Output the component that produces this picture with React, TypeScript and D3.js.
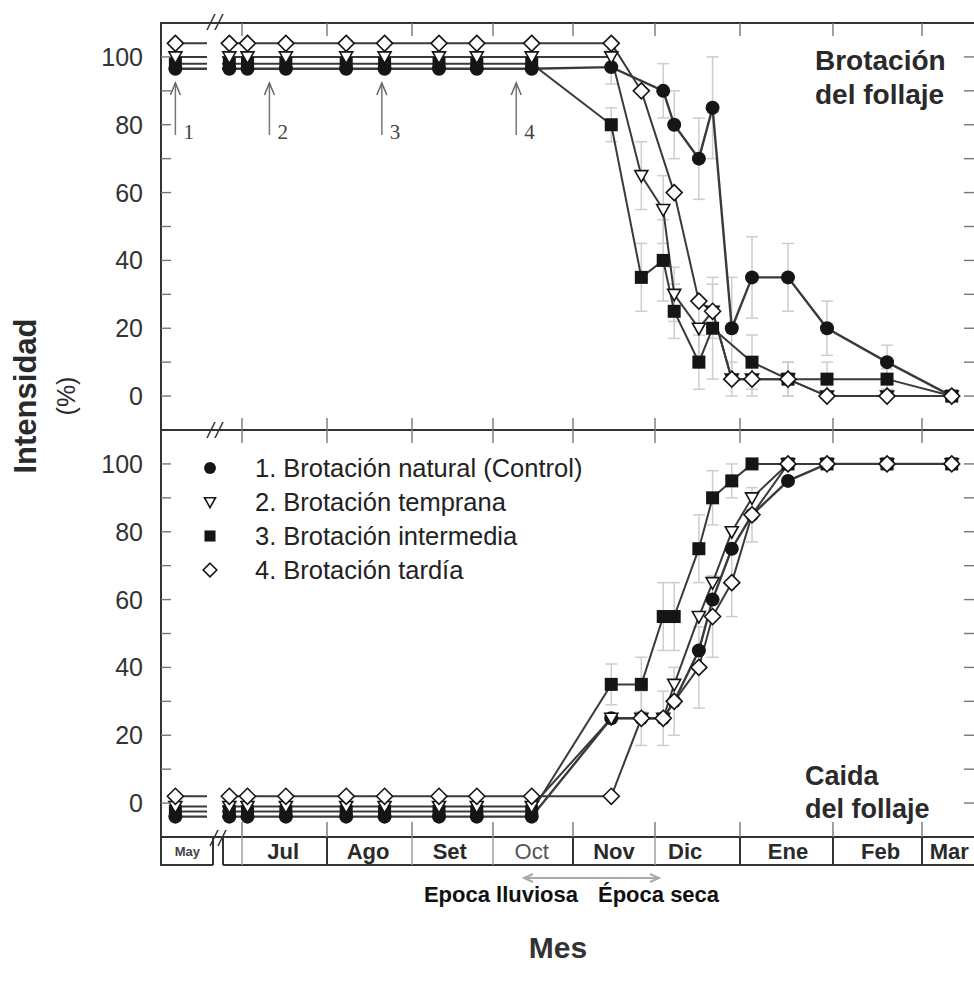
import React from "react";
import * as d3 from "d3";

// Fechas de muestreo (día del año, continuando después del 31 dic)
const dias = [130, 178, 184, 198, 220, 234, 254, 268, 289, 319, 330, 338, 342, 351, 356, 363, 370, 382, 395, 414, 437];

// Brotación del follaje (%)
const brotNatural = [96.5, 96.5, 96.5, 96.5, 96.5, 96.5, 96.5, 96.5, 96.5, 97, null, 90, 80, 70, 85, 20, 35, 35, 20, 10, 0];
const brotTemprana = [100, 100, 100, 100, 100, 100, 100, 100, 100, 100, 65, 55, 30, 20, 25, 5, 5, 5, 0, 0, 0];
const brotIntermedia = [98, 98, 98, 98, 98, 98, 98, 98, 98, 80, 35, 40, 25, 10, 20, null, 10, 5, 5, 5, 0];
const brotTardia = [104, 104, 104, 104, 104, 104, 104, 104, 104, 104, 90, null, 60, 28, 25, 5, 5, 5, 0, 0, 0];

// Caída del follaje (%)
const caidaNatural = [-4, -4, -4, -4, -4, -4, -4, -4, -4, 25, 25, 25, 30, 45, 60, 75, 85, 95, 100, 100, 100];
const caidaTemprana = [-1, -1, -1, -1, -1, -1, -1, -1, -1, 25, 25, 25, 35, 55, 65, 80, 90, 100, 100, 100, 100];
const caidaIntermedia = [-2.5, -2.5, -2.5, -2.5, -2.5, -2.5, -2.5, -2.5, -2.5, 35, 35, 55, 55, 75, 90, 95, 100, 100, 100, 100, 100];
const caidaTardia = [2, 2, 2, 2, 2, 2, 2, 2, 2, 2, 25, 25, 30, 40, 55, 65, 85, 100, 100, 100, 100];

// Error (desviación) aproximada
const errBrotNatural = [0, 0, 0, 0, 0, 0, 0, 0, 0, 5, 0, 8, 10, 12, 15, 15, 12, 10, 8, 5, 0];
const errBrotIntermedia = [0, 0, 0, 0, 0, 0, 0, 0, 0, 5, 10, 12, 8, 8, 15, 0, 8, 5, 5, 3, 0];
const errBrotTemprana = [0, 0, 0, 0, 0, 0, 0, 0, 0, 0, 10, 10, 8, 8, 8, 5, 5, 5, 0, 0, 0];
const errCaidaIntermedia = [0, 0, 0, 0, 0, 0, 0, 0, 0, 6, 8, 10, 10, 10, 8, 5, 0, 0, 0, 0, 0];
const errCaidaTardia = [0, 0, 0, 0, 0, 0, 0, 0, 0, 0, 8, 8, 10, 12, 12, 10, 8, 0, 0, 0, 0];

const serieNombres = [
  "1. Brotación natural (Control)",
  "2. Brotación temprana",
  "3. Brotación intermedia",
  "4. Brotación tardía",
];
const serieTipos = ["circle", "tri", "square", "diamond"];

// Eje x: meses
const mesesEtiquetas = ["Jul", "Ago", "Set", "Oct", "Nov", "Dic", "Ene", "Feb", "Mar"];
const mesesCentro = [197, 228, 258, 289, 320, 346, 382, 412, 436];
const mesesLimites = [182, 213, 244, 274, 305, 335, 366, 397, 425];
const limitesTenues = [182, 244, 274, 335];
const etiquetaMayo = "May";
const diaMayo = 137;

// Tratamientos (flechas)
const tratamientosDia = [130, 192, 233, 283];
const tratamientosEtiqueta = ["1", "2", "3", "4"];

const yTicks = [0, 20, 40, 60, 80, 100];
const yMinor = [0, 10, 20, 30, 40, 50, 60, 70, 80, 90, 100];

function Marker({ kind, cx, cy, s = 1 }: { kind: string; cx: number; cy: number; s?: number }) {
  if (kind === "circle") return <circle cx={cx} cy={cy} r={7 * s} fill="#151515" />;
  if (kind === "square")
    return <rect x={cx - 6.5 * s} y={cy - 6.5 * s} width={13 * s} height={13 * s} fill="#151515" />;
  if (kind === "tri")
    return (
      <path
        d={`M${cx - 6.5 * s},${cy - 5 * s}L${cx + 6.5 * s},${cy - 5 * s}L${cx},${cy + 6.5 * s}Z`}
        fill="#fff"
        stroke="#151515"
        strokeWidth={1.6}
      />
    );
  return (
    <path
      d={`M${cx},${cy - 8 * s}L${cx + 8 * s},${cy}L${cx},${cy + 8 * s}L${cx - 8 * s},${cy}Z`}
      fill="#fff"
      stroke="#151515"
      strokeWidth={1.6}
    />
  );
}

export default function App() {
  const W = 974;
  const H = 985;
  const L = 161;
  const R = 974;
  const x = d3
    .scaleLinear()
    .domain([121, 152, 176, 182, 213, 244, 274, 305, 335, 366, 397, 425, 446])
    .range([160, 213, 223, 242, 327, 412, 493, 573, 655, 740, 833, 922, 974]);
  const yTop = d3.scaleLinear().domain([-10, 110]).range([430, 23]);
  const yBot = d3.scaleLinear().domain([-10, 110]).range([837, 430]);

  const brot = [brotNatural, brotTemprana, brotIntermedia, brotTardia];
  const caida = [caidaNatural, caidaTemprana, caidaIntermedia, caidaTardia];
  const errBrot = [errBrotNatural, errBrotTemprana, errBrotIntermedia, null];
  const errCaida = [null, null, errCaidaIntermedia, errCaidaTardia];

  const font = "'Liberation Sans', Arial, sans-serif";
  const ink = "#2a2a2a";

  const panel = (vals: (number | null)[][], errs: (number[] | null)[], y: d3.ScaleLinear<number, number>, key: string) => {
    const line = d3
      .line<[number, number]>()
      .x((d) => x(d[0]))
      .y((d) => y(d[1]));
    const pts = vals.map((v) =>
      dias.map((d, i) => [d, v[i]] as [number, number | null]).filter((p) => p[1] != null) as [number, number][]
    );
    return (
      <g key={key}>
        {errs.map((e, si) =>
          e
            ? dias.map((d, i) => {
                const v = vals[si][i];
                if (v == null || !e[i]) return null;
                const cx = x(d);
                return (
                  <g key={`e${si}-${i}`} stroke="#cdcdcd" strokeWidth={1.5}>
                    <line x1={cx} x2={cx} y1={y(v - e[i])} y2={y(v + e[i])} />
                    <line x1={cx - 6} x2={cx + 6} y1={y(v + e[i])} y2={y(v + e[i])} />
                    <line x1={cx - 6} x2={cx + 6} y1={y(v - e[i])} y2={y(v - e[i])} />
                  </g>
                );
              })
            : null
        )}
        {pts.map((p, si) => (
          <path key={`l${si}`} d={line(p) || ""} fill="none" stroke="#3a3a3a" strokeWidth={si === 0 ? 2.4 : 2} />
        ))}
        <rect x={207} y={y(108)} width={15} height={y(-8) - y(108)} fill="#fff" />
        {[0, 2, 1, 3].map((si) =>
          pts[si].map((p, i) => <Marker key={`m${si}-${i}`} kind={serieTipos[si]} cx={x(p[0])} cy={y(p[1])} />)
        )}
      </g>
    );
  };

  const breakMark = (cx: number, cy: number, k: string) => (
    <g key={k} stroke="#333" strokeWidth={1.6}>
      <line x1={cx - 9} y1={cy + 8} x2={cx - 1} y2={cy - 8} />
      <line x1={cx - 1} y1={cy + 8} x2={cx + 7} y2={cy - 8} />
    </g>
  );

  return (
    <svg width={W} height={H} style={{ position: "absolute", left: 0, top: 0, background: "#fff" }} fontFamily={font}>
      <rect width={W} height={H} fill="#fff" />

      {panel(brot, errBrot, yTop, "top")}
      {panel(caida, errCaida, yBot, "bot")}

      {/* axis frame */}
      <g stroke="#333" strokeWidth={2} fill="none">
        <line x1={L} x2={L} y1={22} y2={866} />
        <line x1={L} x2={R} y1={23} y2={23} />
        <line x1={L} x2={R} y1={430} y2={430} />
        <line x1={L} x2={R} y1={837} y2={837} />
        <line x1={L} x2={213} y1={865} y2={865} />
        <line x1={223} x2={R} y1={865} y2={865} />
        <line x1={213} x2={213} y1={837} y2={865} />
        <line x1={223} x2={223} y1={837} y2={865} />
      </g>
      {/* month separators */}
      {mesesLimites.map((d, i) => (
        <line
          key={`s${i}`}
          x1={x(d)}
          x2={x(d)}
          y1={837}
          y2={865}
          stroke={limitesTenues.includes(d) ? "#9a9a9a" : "#333"}
          strokeWidth={limitesTenues.includes(d) ? 1.4 : 2}
        />
      ))}
      {/* month ticks */}
      {mesesLimites.map((d, i) => (
        <g key={`mt${i}`} stroke="#777" strokeWidth={1.4}>
          <line x1={x(d)} x2={x(d)} y1={23} y2={36} />
          <line x1={x(d)} x2={x(d)} y1={418} y2={443} />
          <line x1={x(d)} x2={x(d)} y1={822} y2={837} />
        </g>
      ))}
      {breakMark(216, 22, "b1")}
      {breakMark(216, 430, "b2")}
      {breakMark(219, 838, "b3")}

      {/* y ticks */}
      {[yTop, yBot].map((y, pi) => (
        <g key={`yt${pi}`}>
          {yMinor.map((v) => (
            <g key={v} stroke="#777" strokeWidth={1.4}>
              <line x1={L} x2={L + 10} y1={y(v)} y2={y(v)} />
              <line x1={R - 10} x2={R} y1={y(v)} y2={y(v)} />
            </g>
          ))}
          {yTicks.map((v) => (
            <text key={`t${v}`} x={143} y={y(v)} dy="0.36em" textAnchor="end" fontSize={25} fill="#333">
              {v}
            </text>
          ))}
        </g>
      ))}

      {/* month labels */}
      <text x={x(diaMayo)} y={856} textAnchor="middle" fontSize={13} fontWeight="bold" fill="#444">
        {etiquetaMayo}
      </text>
      {mesesEtiquetas.map((m, i) => (
        <text
          key={m}
          x={x(mesesCentro[i])}
          y={859}
          textAnchor="middle"
          fontSize={22}
          fontWeight={m === "Oct" ? "normal" : "bold"}
          fill={m === "Oct" ? "#555" : ink}
        >
          {m}
        </text>
      ))}

      {/* treatment arrows */}
      {tratamientosDia.map((d, i) => {
        const cx = x(d);
        return (
          <g key={`a${i}`}>
            <line x1={cx} x2={cx} y1={135} y2={83} stroke="#777" strokeWidth={1.5} />
            <path d={`M${cx - 5},${95}L${cx},${83}L${cx + 5},${95}`} fill="none" stroke="#666" strokeWidth={1.5} />
            <text x={cx + 8} y={139} fontFamily="'Liberation Serif', 'DejaVu Serif', serif" fontSize={21} fill="#444">
              {tratamientosEtiqueta[i]}
            </text>
          </g>
        );
      })}

      {/* panel titles */}
      <text x={815} y={70} fontSize={28} fontWeight="bold" fill={ink}>
        Brotación
      </text>
      <text x={815} y={104} fontSize={28} fontWeight="bold" fill={ink}>
        del follaje
      </text>
      <text x={805} y={785} fontSize={27} fontWeight="bold" fill={ink}>
        Caida
      </text>
      <text x={805} y={818} fontSize={27} fontWeight="bold" fill={ink}>
        del follaje
      </text>

      {/* legend */}
      {serieNombres.map((n, i) => {
        const yy = 468 + i * 34;
        return (
          <g key={n}>
            <Marker kind={serieTipos[i]} cx={210} cy={yy} s={0.85} />
            <text x={255} y={yy} dy="0.36em" fontSize={25.5} fill="#222">
              {n}
            </text>
          </g>
        );
      })}

      {/* axis titles */}
      <text transform="translate(36,396) rotate(-90)" textAnchor="middle" fontSize={31} fontWeight="bold" fill={ink}>
        Intensidad
      </text>
      <text transform="translate(75,396) rotate(-90)" textAnchor="middle" fontSize={25} fill={ink}>
        (%)
      </text>

      {/* seasons */}
      <g stroke="#aaa" strokeWidth={2} fill="none">
        <line x1={525} x2={658} y1={878} y2={878} />
        <path d="M533,874L524,878L533,882" />
        <path d="M650,874L659,878L650,882" />
      </g>
      <text x={578} y={902} textAnchor="end" fontSize={22} fontWeight="bold" fill="#111">
        Epoca lluviosa
      </text>
      <text x={598} y={902} fontSize={22} fontWeight="bold" fill="#111">
        Época seca
      </text>
      <text x={558} y={958} textAnchor="middle" fontSize={30} fontWeight="bold" fill="#333">
        Mes
      </text>
    </svg>
  );
}
